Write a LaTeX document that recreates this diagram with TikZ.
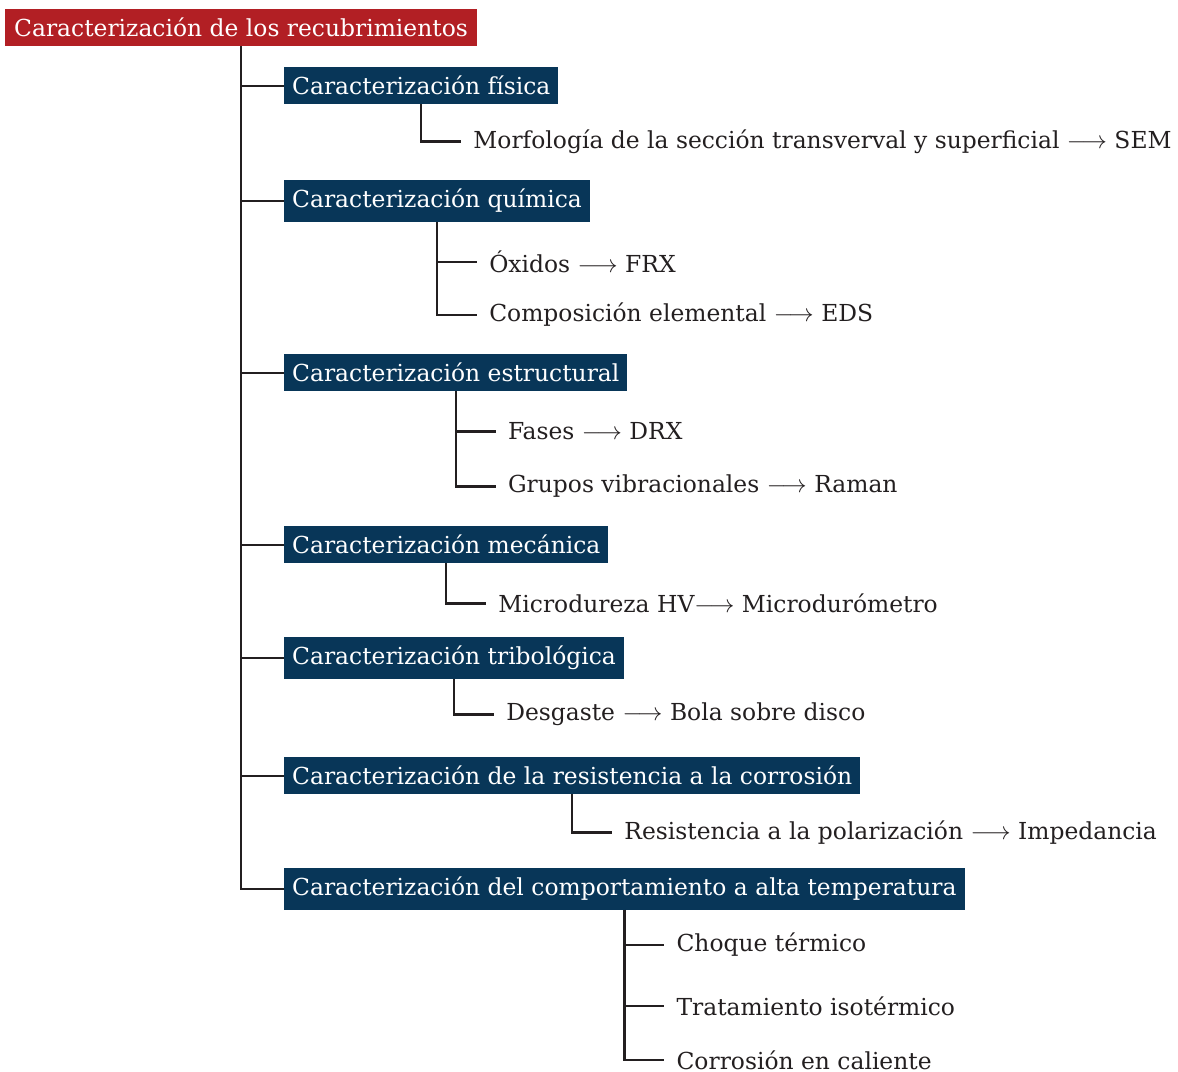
\documentclass[tikz,border=0pt]{standalone}
\usepackage{fontspec}
\setmainfont{DejaVu Serif}
\usetikzlibrary{calc}
\definecolor{rojo}{RGB}{178,31,36}
\definecolor{azul}{RGB}{8,54,88}
\definecolor{linea}{RGB}{35,31,32}
\tikzset{
  raiz/.style={fill=rojo, text=white, anchor=north west, inner xsep=9pt, inner ysep=9pt},
  caja/.style={fill=azul, text=white, anchor=north west, inner xsep=8pt, inner ysep=9pt},
  hoja/.style={anchor=west, inner xsep=12pt, inner ysep=0pt, text=linea},
  rama/.style={draw=linea, line width=2.4pt}
}
\begin{document}
\begin{tikzpicture}[x=1pt, y=-1pt, font=\fontsize{23.4}{28}\selectfont]
\useasboundingbox (0,0) rectangle (1178,1071);
\node[raiz] (rec) at (5,9) {Caracterización de los recubrimientos};
\node[caja] (fis) at (284,67) {Caracterización física};
\node[caja] (qui) at (284,180) {Caracterización química};
\node[caja] (est) at (284,354) {Caracterización estructural};
\node[caja] (mec) at (284,526) {Caracterización mecánica};
\node[caja] (tri) at (284,637) {Caracterización tribológica};
\node[caja] (res) at (284,757) {Caracterización de la resistencia a la corrosión};
\node[caja] (tem) at (284,868) {Caracterización del comportamiento a alta temperatura};
\node[hoja] (morf) at ($(fis.south)+(40,37)$) {Morfología de la sección transverval y superficial $\longrightarrow$ SEM};
\node[hoja] (oxi) at ($(qui.south)+(40,40)$) {Óxidos $\longrightarrow$ FRX};
\node[hoja] (comp) at ($(qui.south)+(40,93)$) {Composición elemental $\longrightarrow$ EDS};
\node[hoja] (fas) at ($(est.south)+(40,40)$) {Fases $\longrightarrow$ DRX};
\node[hoja] (vib) at ($(est.south)+(40,95)$) {Grupos vibracionales $\longrightarrow$ Raman};
\node[hoja] (dur) at ($(mec.south)+(40,40)$) {Microdureza HV$\longrightarrow$ Microdurómetro};
\node[hoja] (des) at ($(tri.south)+(40,35)$) {Desgaste $\longrightarrow$ Bola sobre disco};
\node[hoja] (pol) at ($(res.south)+(40,38)$) {Resistencia a la polarización $\longrightarrow$ Impedancia};
\node[hoja] (cho) at ($(tem.south)+(40,35)$) {Choque térmico};
\node[hoja] (iso) at ($(tem.south)+(40,96)$) {Tratamiento isotérmico};
\node[hoja] (cal) at ($(tem.south)+(40,150)$) {Corrosión en caliente};
\foreach \c in {fis,qui,est,mec,tri,res,tem}
  \draw[rama] (rec.south) |- (\c.west);
\draw[rama] (fis.south) |- (morf.west);
\draw[rama] (qui.south) |- (oxi.west);
\draw[rama] (qui.south) |- (comp.west);
\draw[rama] (est.south) |- (fas.west);
\draw[rama] (est.south) |- (vib.west);
\draw[rama] (mec.south) |- (dur.west);
\draw[rama] (tri.south) |- (des.west);
\draw[rama] (res.south) |- (pol.west);
\draw[rama] (tem.south) |- (cho.west);
\draw[rama] (tem.south) |- (iso.west);
\draw[rama] (tem.south) |- (cal.west);
\end{tikzpicture}
\end{document}
